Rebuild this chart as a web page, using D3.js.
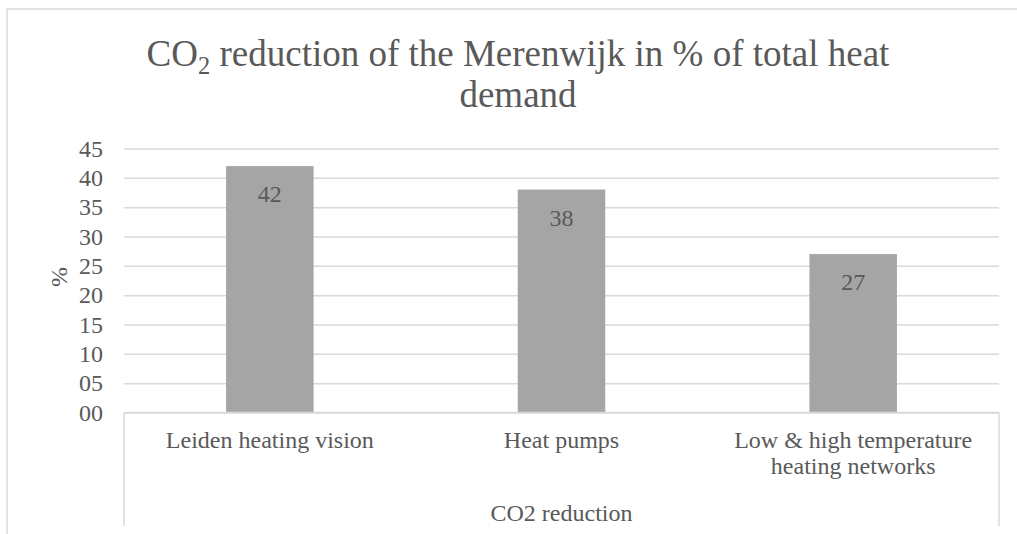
<!DOCTYPE html>
<html>
<head>
<meta charset="utf-8">
<script src="https://cdn.jsdelivr.net/npm/d3@7"></script>
<style>
  html, body { margin: 0; padding: 0; background: #fff; }
  svg text { font-family: "Liberation Serif", "Times New Roman", "DejaVu Serif", serif !important; }
</style>
</head>
<body>
<svg id="chart" width="1017" height="534"></svg>
<script>
// Chart data
const categories = ["Leiden heating vision", "Heat pumps", "Low & high temperature heating networks"];
const co2Reduction = [42, 38, 27];
const yTicks = [0, 5, 10, 15, 20, 25, 30, 35, 40, 45];
const groupLabel = "CO2 reduction";
const yAxisLabel = "%";

const textColor = "#595959";
const gridColor = "#d9d9d9";
const barColor = "#a5a5a5";
const labelSize = 24;
const titleSize = 37;

const svg = d3.select("#chart");

// Outer chart frame
svg.append("rect")
  .attr("x", 7).attr("y", 9)
  .attr("width", 1040).attr("height", 560)
  .attr("fill", "none")
  .attr("stroke", gridColor)
  .attr("stroke-width", 1.5);

const plot = { left: 124, right: 999, top: 148.5, bottom: 412.5 };

const x = d3.scaleBand()
  .domain(categories)
  .range([plot.left, plot.right])
  .paddingInner(0.7)
  .paddingOuter(0.35);

const y = d3.scaleLinear()
  .domain([0, 45])
  .range([plot.bottom, plot.top]);

// Title with subscript
const title = svg.append("text")
  .attr("x", 518).attr("y", 66)
  .attr("text-anchor", "middle")
  .attr("fill", textColor)
  .attr("font-size", titleSize);
title.append("tspan").text("CO");
title.append("tspan").attr("font-size", titleSize * 0.66).attr("dy", 8).text("2");
title.append("tspan").attr("dy", -8).text(" reduction of the Merenwijk in % of total heat");
svg.append("text")
  .attr("x", 518).attr("y", 107)
  .attr("text-anchor", "middle")
  .attr("fill", textColor)
  .attr("font-size", titleSize)
  .text("demand");

// Horizontal gridlines and value axis
const yAxis = d3.axisLeft(y)
  .tickValues(yTicks)
  .tickFormat(d3.format("02d"))
  .tickSize(-(plot.right - plot.left))
  .tickPadding(21);

const gy = svg.append("g")
  .attr("transform", `translate(${plot.left},0)`)
  .call(yAxis);
gy.select(".domain").remove();
gy.selectAll(".tick line")
  .attr("stroke", gridColor)
  .attr("stroke-width", 1.5);
gy.selectAll(".tick text")
  .attr("fill", textColor)
  .attr("font-size", labelSize);

// Value axis title
svg.append("text")
  .attr("transform", `translate(67,277) rotate(-90)`)
  .attr("text-anchor", "middle")
  .attr("fill", textColor)
  .attr("font-size", labelSize)
  .text(yAxisLabel);

// Bars
svg.append("g").selectAll("rect")
  .data(categories)
  .join("rect")
  .attr("x", d => x(d))
  .attr("width", x.bandwidth())
  .attr("y", (d, i) => y(co2Reduction[i]))
  .attr("height", (d, i) => y(0) - y(co2Reduction[i]))
  .attr("fill", barColor);

// Data labels inside bar ends
svg.append("g").selectAll("text")
  .data(categories)
  .join("text")
  .attr("x", d => x(d) + x.bandwidth() / 2)
  .attr("y", (d, i) => y(co2Reduction[i]) + 36)
  .attr("text-anchor", "middle")
  .attr("fill", textColor)
  .attr("font-size", labelSize)
  .text((d, i) => co2Reduction[i]);

// Category axis box
const axisBox = svg.append("g")
  .attr("stroke", gridColor)
  .attr("stroke-width", 1.5)
  .attr("fill", "none");
axisBox.append("line")
  .attr("x1", plot.left).attr("x2", plot.right)
  .attr("y1", y(0)).attr("y2", y(0));
axisBox.append("line")
  .attr("x1", plot.left).attr("x2", plot.left)
  .attr("y1", y(0)).attr("y2", 526);
axisBox.append("line")
  .attr("x1", plot.right).attr("x2", plot.right)
  .attr("y1", y(0)).attr("y2", 526);

// Category labels, wrapped to the band step
const xAxis = d3.axisBottom(x).tickSize(0).tickPadding(0);
const gx = svg.append("g")
  .attr("transform", `translate(0,${y(0)})`)
  .call(xAxis);
gx.select(".domain").remove();
gx.selectAll(".tick text")
  .attr("fill", textColor)
  .attr("font-size", labelSize)
  .attr("y", 0)
  .attr("dy", 0)
  .each(function () { wrap(d3.select(this), x.step() * 0.9); });

function wrap(text, width) {
  const words = text.text().split(/\s+/);
  text.text(null);
  let line = [];
  let lineNo = 0;
  let tspan = text.append("tspan").attr("x", 0).attr("y", 35);
  for (const w of words) {
    line.push(w);
    tspan.text(line.join(" "));
    if (tspan.node().getComputedTextLength() > width && line.length > 1) {
      line.pop();
      tspan.text(line.join(" "));
      line = [w];
      lineNo++;
      tspan = text.append("tspan").attr("x", 0).attr("y", 35 + lineNo * 26).text(w);
    }
  }
}

// Group label under the categories
svg.append("text")
  .attr("x", (plot.left + plot.right) / 2)
  .attr("y", 521)
  .attr("text-anchor", "middle")
  .attr("fill", textColor)
  .attr("font-size", labelSize)
  .text(groupLabel);
</script>
</body>
</html>
